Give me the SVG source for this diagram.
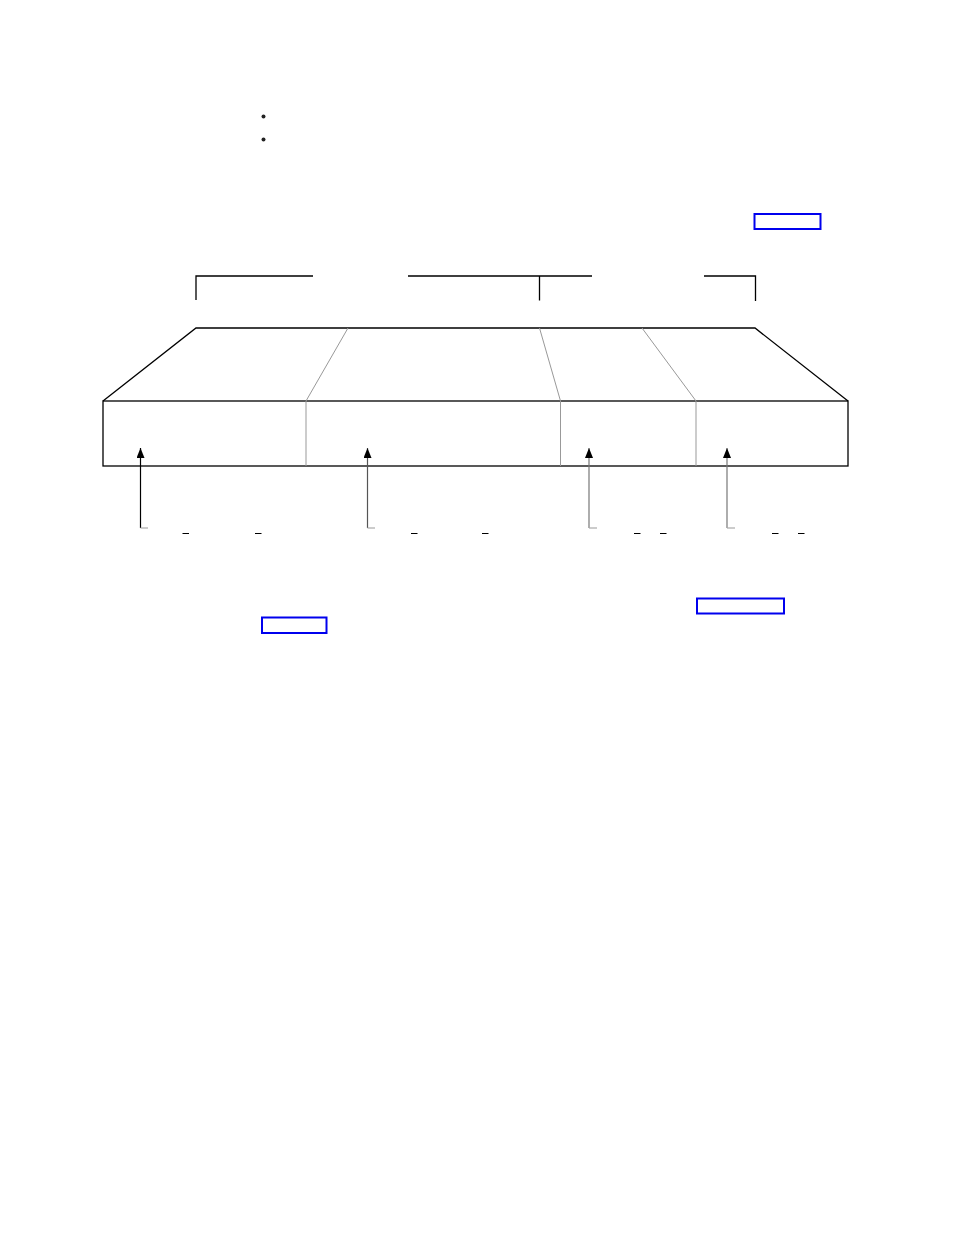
<svg xmlns="http://www.w3.org/2000/svg" width="954" height="1235" viewBox="0 0 954 1235">
<style>
.k{stroke:#000;stroke-width:1.3;fill:none}
.g{stroke:#999;stroke-width:1;fill:none}
.lnk{stroke:#0000ee;stroke-width:2;fill:none}
.us{stroke:#000;stroke-width:1}
</style>
<defs>
<marker id="ah" markerWidth="10" markerHeight="8" refX="10" refY="4" orient="auto" markerUnits="userSpaceOnUse">
<path d="M0,0 L10,4 L0,8 Z" fill="#000"/>
</marker>
</defs>
<rect width="954" height="1235" fill="#fff"/>
<g id="bullets">
<circle cx="263.5" cy="116.5" r="2" fill="#222"/>
<circle cx="263.5" cy="139.5" r="2" fill="#222"/>
</g>
<g id="links">
<rect class="lnk" x="754.5" y="214" width="66" height="15"/>
<rect class="lnk" x="697" y="598.5" width="87" height="15"/>
<rect class="lnk" x="262" y="617.5" width="64.5" height="15.5"/>
</g>
<g id="brackets">
<path class="k" d="M196,300 V276 H313"/>
<path class="k" d="M408,276 H592 M539.5,276 V300.5"/>
<path class="k" d="M704,276 H755.5 V301"/>
</g>
<g id="box">
<path class="k" d="M103,401 L196,328 H755 L848,401"/>
<rect class="k" x="103" y="401" width="745" height="65"/>
<path class="g" d="M348,328 L306,401 V466"/>
<path class="g" d="M539.5,328 L560.5,401 V466"/>
<path class="g" d="M642,328 L696,401 V466"/>
</g>
<g id="connectors">
<path d="M140.5,528 V448" stroke="#000" stroke-width="1.2" fill="none" marker-end="url(#ah)"/>
<path d="M140.5,528 H148" stroke="#aaa" stroke-width="1.2"/>
<path d="M367.5,528 V448" stroke="#555" stroke-width="1.2" fill="none" marker-end="url(#ah)"/>
<path d="M367.5,528 H375" stroke="#aaa" stroke-width="1.2"/>
<path d="M589,528 V448" stroke="#777" stroke-width="1.2" fill="none" marker-end="url(#ah)"/>
<path d="M589,528 H597" stroke="#aaa" stroke-width="1.2"/>
<path d="M727,528 V448" stroke="#777" stroke-width="1.2" fill="none" marker-end="url(#ah)"/>
<path d="M727,528 H735" stroke="#aaa" stroke-width="1.2"/>
</g>
<g id="underscores">
<path class="us" d="M182.5,533.5 H189 M255,533.5 H261.5 M411,533.5 H417.5 M482,533.5 H488.5 M634,533.5 H640.5 M660,533.5 H666.5 M772,533.5 H778.5 M798,533.5 H804.5"/>
</g>
</svg>
